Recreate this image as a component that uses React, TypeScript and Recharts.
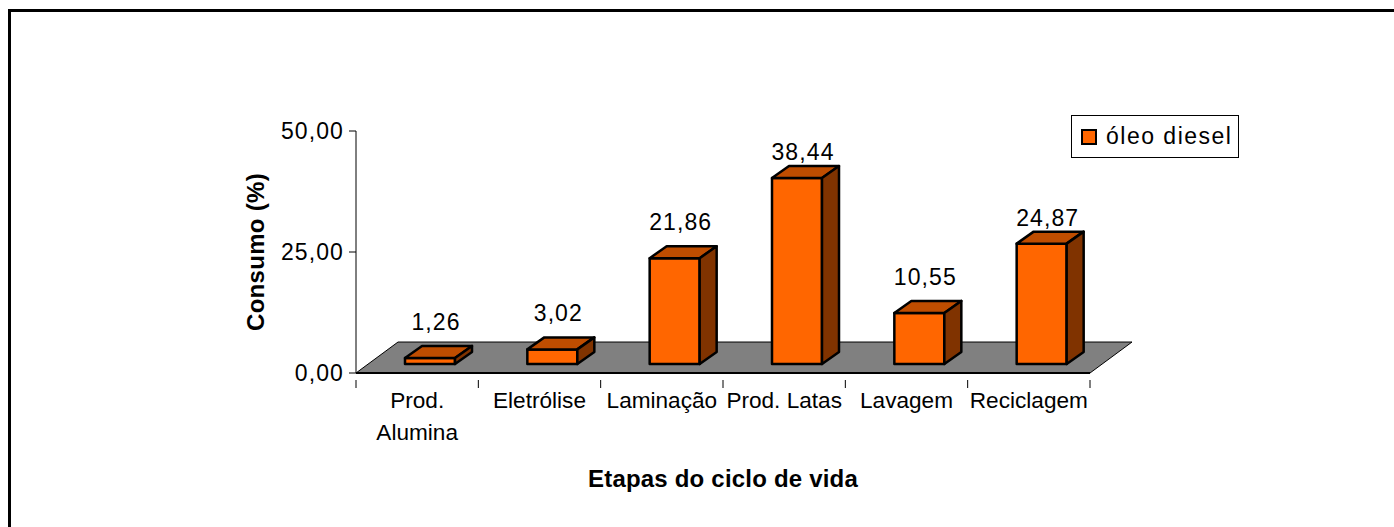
import { Bar, BarChart, LabelList, Legend, ReferenceArea, XAxis, YAxis } from 'recharts';

const etapas = ['Prod. Alumina', 'Eletrólise', 'Laminação', 'Prod. Latas', 'Lavagem', 'Reciclagem'];
const consumo = [1.26, 3.02, 21.86, 38.44, 10.55, 24.87];
const yTicks = [0, 25, 50];
const floorDepth = 6.4;

const data = etapas.map((etapa, i) => ({ etapa, consumo: consumo[i] }));

const FONT = '"Liberation Sans", Arial, sans-serif';
const FRONT = '#ff6600';
const TOP = '#bf4d00';
const SIDE = '#803300';

// fake 3D depth, same look as the old excel chart
const DX = 17;
const DY = 12;
const SHIFT_X = 13;
const SHIFT_Y = 9;

const formatValue = (value: number) => value.toFixed(2).replace('.', ',');

function Bar3D({ x, y, width, height }: any) {
  const left = x + SHIFT_X;
  const right = left + width;
  const top = y - SHIFT_Y;
  const bottom = y + height - SHIFT_Y;
  return (
    <g stroke="#000" strokeWidth={2.5} strokeLinejoin="round">
      <rect x={left} y={top} width={width} height={height} fill={FRONT} />
      <path d={`M${left},${top}L${left + DX},${top - DY}L${right + DX},${top - DY}L${right},${top}Z`} fill={TOP} />
      <path d={`M${right},${top}L${right + DX},${top - DY}L${right + DX},${bottom - DY}L${right},${bottom}Z`} fill={SIDE} />
    </g>
  );
}

function Floor({ x, y, width, height }: any) {
  return (
    <path
      d={`M${x},${y + height}L${x + width},${y + height}L${x + width + 42},${y}L${x + 42},${y}Z`}
      fill="#808080"
      stroke="#000"
      strokeWidth={1}
    />
  );
}

function ValueLabel({ x, y, width, value, index }: any) {
  const lift = index === 3 || index === 5 ? 35 : 45;
  return (
    <text x={x + width / 2 + 19} y={y - lift} textAnchor="middle" dominantBaseline="central" fontSize={23} letterSpacing={1.1} fontFamily={FONT} fill="#000">
      {formatValue(value)}
    </text>
  );
}

function CategoryTick({ x, y, payload, index }: any) {
  const band = 734 / etapas.length;
  const words = payload.value === 'Prod. Alumina' ? ['Prod.', 'Alumina'] : [payload.value];
  return (
    <g>
      <line x1={x - band / 2} x2={x - band / 2} y1={y - 1} y2={y + 7} stroke="#000" />
      {index === etapas.length - 1 && <line x1={x + band / 2} x2={x + band / 2} y1={y - 1} y2={y + 7} stroke="#000" />}
      {words.map((word: string, i: number) => (
        <text key={word} x={x} y={y + 19 + i * 32} textAnchor="middle" dominantBaseline="central" fontSize={22.6} fontFamily={FONT} fill="#000">
          {word}
        </text>
      ))}
    </g>
  );
}

function LegendBox() {
  return (
    <div
      style={{
        width: 168,
        height: 43,
        boxSizing: 'border-box',
        border: '1px solid #000',
        background: '#fff',
        display: 'flex',
        alignItems: 'center',
        paddingLeft: 9,
        fontFamily: FONT,
        fontSize: 23,
        letterSpacing: 1.5,
        color: '#000',
      }}
    >
      <span style={{ width: 16, height: 16, boxSizing: 'border-box', border: '2px solid #000', background: FRONT, marginRight: 9 }} />
      óleo diesel
    </div>
  );
}

export default function App() {
  return (
    <div style={{ position: 'absolute', left: 0, top: 0, width: 1394, height: 527, background: '#fff', overflow: 'hidden' }}>
      <div style={{ position: 'absolute', left: 8, top: 9, width: 1400, height: 540, boxSizing: 'border-box', border: '3px solid #000' }} />
      <BarChart
        width={1394}
        height={527}
        data={data}
        margin={{ top: 131, right: 304, bottom: 0, left: 0 }}
        style={{ position: 'absolute', left: 0, top: 0 }}
      >
        <XAxis
          dataKey="etapa"
          height={154}
          interval={0}
          axisLine={{ stroke: '#000', strokeWidth: 2 }}
          tickLine={false}
          tick={<CategoryTick />}
          label={{ value: 'Etapas do ciclo de vida', position: 'insideBottom', offset: 40, fontSize: 24, letterSpacing: 0.2, fontWeight: 700, fontFamily: FONT, fill: '#000' }}
        />
        <YAxis
          width={356}
          domain={[0, 50]}
          ticks={yTicks}
          interval={0}
          tickFormatter={formatValue}
          axisLine={{ stroke: '#000' }}
          tickLine={{ stroke: '#000' }}
          tickSize={7}
          tickMargin={5}
          tick={{ fontSize: 23, letterSpacing: 1.1, fontFamily: FONT, fill: '#000' }}
          label={{ value: 'Consumo (%)', angle: -90, position: 'center', dx: 77, fontSize: 24, letterSpacing: 0.3, fontWeight: 700, fontFamily: FONT, fill: '#000' }}
        />
        <ReferenceArea y1={0} y2={floorDepth} shape={<Floor />} />
        <Legend
          layout="horizontal"
          verticalAlign="middle"
          wrapperStyle={{ left: 1071, top: 115, width: 168 }}
          content={() => <LegendBox />}
        />
        <Bar dataKey="consumo" name="óleo diesel" barSize={50} shape={<Bar3D />} isAnimationActive={false}>
          <LabelList dataKey="consumo" content={<ValueLabel />} />
        </Bar>
      </BarChart>
    </div>
  );
}
